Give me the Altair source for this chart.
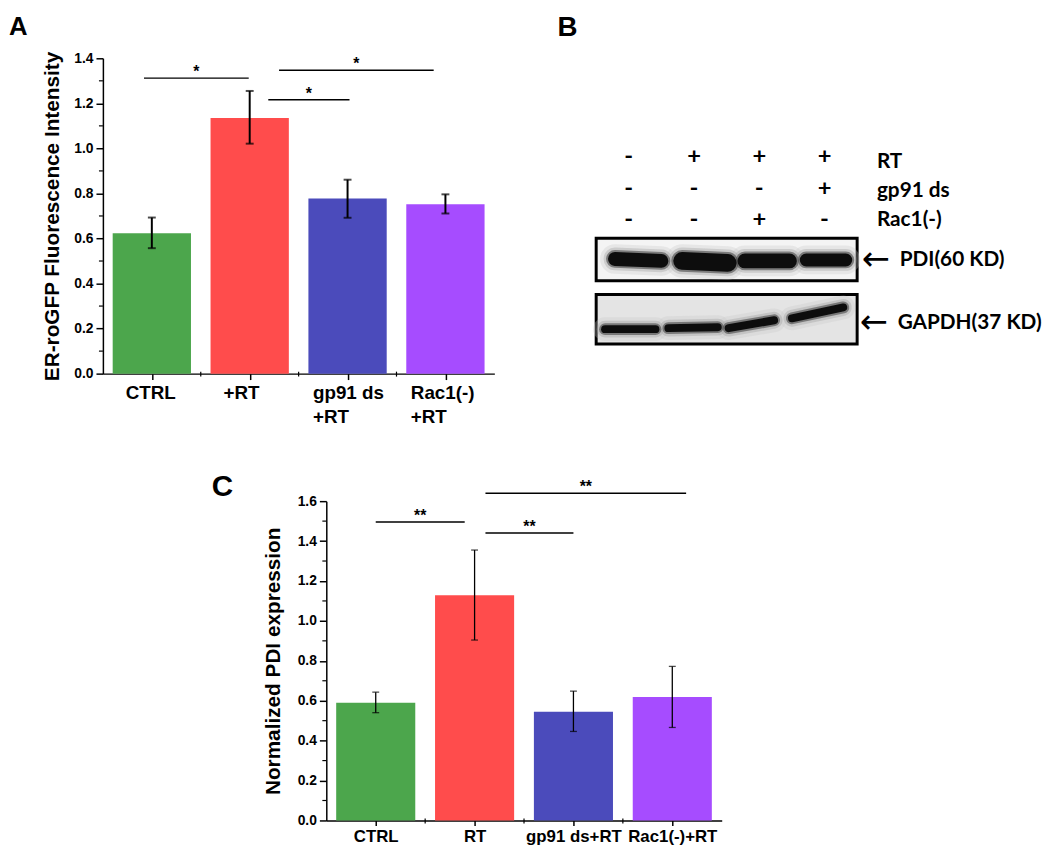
import json
import altair as alt
import pandas as pd

# ---------------- data: panel A ----------------
A_CATS = ["CTRL", "+RT", "gp91 ds\n+RT", "Rac1(-)\n+RT"]
A_MEAN = [0.623, 1.135, 0.777, 0.752]
A_LOW = [0.557, 1.021, 0.692, 0.711]
A_HIGH = [0.693, 1.255, 0.861, 0.796]
A_SIG_FROM = [0.42, 1.69, 1.80]
A_SIG_TO = [1.49, 2.52, 3.38]
A_SIG_Y = [1.312, 1.216, 1.347]
A_SIG_MARK = ["*", "*", "*"]
A_Y_TICKS = [0.0, 0.2, 0.4, 0.6, 0.8, 1.0, 1.2, 1.4]
A_Y_MINOR = [0.1, 0.3, 0.5, 0.7, 0.9, 1.1, 1.3]
A_TITLE = "ER-roGFP Fluorescence Intensity"

# ---------------- data: panel C ----------------
C_CATS = ["CTRL", "RT", "gp91 ds+RT", "Rac1(-)+RT"]
C_MEAN = [0.590, 1.129, 0.545, 0.618]
C_LOW = [0.540, 0.904, 0.446, 0.466]
C_HIGH = [0.643, 1.355, 0.648, 0.772]
C_SIG_FROM = [0.50, 1.61, 1.61]
C_SIG_TO = [1.40, 2.50, 3.64]
C_SIG_Y = [1.496, 1.441, 1.640]
C_SIG_MARK = ["**", "**", "**"]
C_Y_TICKS = [0.0, 0.2, 0.4, 0.6, 0.8, 1.0, 1.2, 1.4, 1.6]
C_Y_MINOR = [0.1, 0.3, 0.5, 0.7, 0.9, 1.1, 1.3, 1.5]
C_TITLE = "Normalized PDI expression"

BAR_COLORS = ["#4ca64c", "#ff4c4c", "#4b4bbb", "#a64cff"]
CAT_BOUNDS = [1, 2, 3]

# ---------------- data: panel B (western blot) ----------------
LANES = [1, 2, 3, 4]
TREATMENTS = ["RT", "gp91 ds", "Rac1(-)"]
SIGNS = {
    "RT": ["-", "+", "+", "+"],
    "gp91 ds": ["-", "-", "-", "+"],
    "Rac1(-)": ["-", "-", "+", "-"],
}
BLOTS = ["PDI(60 KD)", "GAPDH(37 KD)"]
# band geometry (page pixels)
PDI_XL = [615, 681, 746, 809]
PDI_XR = [676, 745, 806, 862]
PDI_YL = [256, 258, 258, 257]
PDI_YR = [258, 260, 258, 257]
PDI_W = [14, 18, 15, 13]
GAPDH_XL = [608, 672, 733, 797]
GAPDH_XR = [667, 730, 787, 857]
GAPDH_YL = [327, 326, 326, 316]
GAPDH_YR = [327, 325, 318, 305]
GAPDH_W = [8, 8, 8, 8]

FONT = "Liberation Sans"
BFONT = "Lato"

# ---------------- layout ----------------
SIGN_ROW_Y = {"RT": 153, "gp91 ds": 185, "Rac1(-)": 217}
LABEL_ROW_Y = {"RT": 158, "gp91 ds": 187, "Rac1(-)": 217}
BOX_Y = {"PDI(60 KD)": (235, 278), "GAPDH(37 KD)": (292, 342)}
BOX_FILL = {"PDI(60 KD)": "#f4f4f4", "GAPDH(37 KD)": "#e4e4e4"}
BLOT_LABEL_Y = {"PDI(60 KD)": 257, "GAPDH(37 KD)": 321}
B_LEFT_PX, B_RIGHT_PX = 500, 1038
B_TOP_PX, B_BOTTOM_PX = 53, 437
BLOT_X0_PX, LANE_PX = 603, 66
C_SPACER = 109


def lane_of(px):
    return 0.5 + (px - BLOT_X0_PX) / LANE_PX


ONE = pd.DataFrame({"k": [0]})


def bar_panel(cats, mean, low, high, sig_from, sig_to, sig_y, sig_mark,
              yticks, yminor, ymax, ytitle, letter, width, height,
              anchor_dx, anchor_dy, letter_dx, letter_dy, letter_size,
              label_size, label_line, tick_size, label_pad, title_pad,
              err_w, cap_w, label_align="center", label_offset=0):
    n = len(cats)
    expr = ""
    for i, c in enumerate(cats):
        parts = c.split("\n")
        lit = json.dumps(parts) if len(parts) > 1 else json.dumps(c)
        if i < n - 1:
            expr += f"datum.value < {i + 1} ? {lit} : "
        else:
            expr += lit
    xs = alt.Scale(domain=[0, n], nice=False, zero=False)
    xaxis = alt.Axis(values=[i + 0.5 for i in range(n)], labelExpr=expr, title=None,
                     grid=False, domainColor="black", domainWidth=1.5, tickColor="black",
                     tickWidth=1.5, tickSize=tick_size, labelFont=FONT, labelFontWeight="bold",
                     labelFontSize=label_size, labelColor="black", labelPadding=label_pad,
                     labelLineHeight=label_line, labelAngle=0, labelOverlap=False,
                     labelFlush=False, labelBaseline="top", labelAlign=label_align,
                     labelOffset=label_offset)
    ys = alt.Scale(domain=[0, ymax], nice=False, zero=True)
    yaxis = alt.Axis(values=yticks, format=".1f", title=ytitle, grid=False,
                     domainColor="black", domainWidth=1.5, tickColor="black", tickWidth=1.5,
                     tickSize=7, labelFont=FONT, labelFontWeight="bold", labelFontSize=14,
                     labelColor="black", labelPadding=3, labelOverlap=False, labelFlush=False,
                     titleFont=FONT, titleFontWeight="bold", titleFontSize=21,
                     titleColor="black", titlePadding=title_pad)

    def X(f):
        return alt.X(f, type="quantitative", scale=xs, axis=xaxis)

    def Y(f):
        return alt.Y(f, type="quantitative", scale=ys, axis=yaxis)

    df = pd.DataFrame({
        "cat": cats,
        "x0": [i + 0.1 for i in range(n)],
        "x1": [i + 0.9 for i in range(n)],
        "xc": [i + 0.5 for i in range(n)],
        "mean": mean, "low": low, "high": high,
        "base": [0.0] * n,
    })
    caps = pd.DataFrame({"xc": list(df.xc) * 2, "v": list(low) + list(high)})
    sig = pd.DataFrame({"x1": sig_from, "x2": sig_to, "y": sig_y, "t": sig_mark,
                        "xm": [(a + b) / 2 for a, b in zip(sig_from, sig_to)]})

    bars = alt.Chart(df).mark_bar().encode(
        x=X("x0"), x2="x1", y=Y("mean"), y2="base",
        color=alt.Color("cat:N", scale=alt.Scale(domain=cats, range=BAR_COLORS), legend=None))
    errs = alt.Chart(df).mark_rule(color="black", strokeWidth=err_w).encode(
        x=X("xc"), y=Y("low"), y2="high")
    capm = alt.Chart(caps).mark_tick(orient="horizontal", color="black",
                                     thickness=err_w, size=cap_w).encode(x=X("xc"), y=Y("v"))
    sigl = alt.Chart(sig).mark_rule(color="black", strokeWidth=1.5).encode(
        x=X("x1"), x2="x2", y=Y("y"))
    stars = alt.Chart(sig).mark_text(font=FONT, fontWeight="bold", fontSize=16,
                                     baseline="alphabetic", dy=-1, color="black").encode(
        x=X("xm"), y=Y("y"), text="t:N")
    ymin = alt.Chart(pd.DataFrame({"v": yminor})).mark_rule(color="black", strokeWidth=1.2).encode(
        x=alt.value(0), x2=alt.value(-4), y=Y("v"))
    xmin = alt.Chart(pd.DataFrame({"v": CAT_BOUNDS})).mark_rule(color="black", strokeWidth=1.2).encode(
        x=X("v"), y=alt.value(height - 2), y2=alt.value(height + 3))
    let = alt.Chart(ONE).mark_text(font=FONT, fontWeight="bold", fontSize=letter_size,
                                   align="left", baseline="alphabetic", color="black").encode(
        x=alt.value(letter_dx), y=alt.value(letter_dy), text=alt.value(letter))
    anchor = alt.Chart(ONE).mark_point(filled=True, size=1, color="white", opacity=1).encode(
        x=alt.value(anchor_dx), y=alt.value(anchor_dy))
    return alt.layer(bars, errs, capm, sigl, stars, ymin, xmin, let, anchor).properties(
        width=width, height=height)


panel_a = bar_panel(A_CATS, A_MEAN, A_LOW, A_HIGH, A_SIG_FROM, A_SIG_TO, A_SIG_Y, A_SIG_MARK,
                    A_Y_TICKS, A_Y_MINOR, 1.4, A_TITLE, "A", 396, 319,
                    -95, -45, -95, -24, 26, 19, 24, 6, 4, 11, 2, 8,
                    label_align="left",
                    label_offset={"condition": {"test": "datum.value < 2", "value": -27},
                                  "value": -35.5})

panel_c = bar_panel(C_CATS, C_MEAN, C_LOW, C_HIGH, C_SIG_FROM, C_SIG_TO, C_SIG_Y, C_SIG_MARK,
                    C_Y_TICKS, C_Y_MINOR, 1.6, C_TITLE, "C", 400, 323,
                    -116, -63, -116, -5, 30, 17, 20, 5, 3, 14, 1.3, 7)

# ---------------- panel B ----------------
bxs = alt.Scale(domain=[lane_of(B_LEFT_PX), lane_of(B_RIGHT_PX)], nice=False, zero=False)
bys = alt.Scale(domain=[B_TOP_PX, B_BOTTOM_PX], reverse=True, nice=False, zero=False)


def BX(f):
    return alt.X(f, type="quantitative", scale=bxs, axis=None)


def BY(f):
    return alt.Y(f, type="quantitative", scale=bys, axis=None)


sign_rows = []
for t in TREATMENTS:
    for lane, s in zip(LANES, SIGNS[t]):
        sign_rows.append({"lane": lane, "y": SIGN_ROW_Y[t], "s": s})
sign_df = pd.DataFrame(sign_rows)
treat_df = pd.DataFrame({"name": TREATMENTS, "x": [lane_of(887)] * 3,
                         "y": [LABEL_ROW_Y[t] for t in TREATMENTS]})
box_df = pd.DataFrame({"blot": BLOTS, "x1": [0.5, 0.5], "x2": [4.5, 4.5],
                       "y1": [BOX_Y[b][0] for b in BLOTS], "y2": [BOX_Y[b][1] for b in BLOTS]})
blot_lab = pd.DataFrame({"blot": BLOTS, "x": [lane_of(910), lane_of(908)],
                         "xa": [lane_of(872), lane_of(870)],
                         "y": [BLOT_LABEL_Y[b] for b in BLOTS]})

band_rows = []
for xl, xr, yl, yr, w in zip(PDI_XL + GAPDH_XL, PDI_XR + GAPDH_XR,
                             PDI_YL + GAPDH_YL, PDI_YR + GAPDH_YR, PDI_W + GAPDH_W):
    band_rows.append({"xl": lane_of(xl + w / 2), "xr": lane_of(xr - w / 2),
                      "yl": yl, "yr": yr, "w": w})
band_df = pd.DataFrame(band_rows)

boxes = alt.Chart(box_df).mark_rect(stroke="black", strokeWidth=3).encode(
    x=BX("x1"), x2="x2", y=BY("y1"), y2="y2",
    fill=alt.Fill("blot:N", scale=alt.Scale(domain=BLOTS, range=[BOX_FILL[b] for b in BLOTS]),
                  legend=None))


def band_layer(extra, color, opacity):
    d = band_df.assign(ww=band_df.w + extra)
    return alt.Chart(d).mark_rule(strokeCap="round", color=color, opacity=opacity).encode(
        x=BX("xl"), x2="xr", y=BY("yl"), y2="yr",
        size=alt.Size("ww:Q", scale=None, legend=None))


halo3 = band_layer(16, "#c8c8c8", 0.3)
halo2 = band_layer(9, "#9a9a9a", 0.35)
halo1 = band_layer(4, "#3a3a3a", 0.55)
core = band_layer(0, "#0d0d0d", 1.0)

signs = alt.Chart(sign_df).mark_text(font=BFONT, fontWeight="bold", fontSize=24,
                                     baseline="middle", color="black").encode(
    x=BX("lane"), y=BY("y"), text="s:N")
treat = alt.Chart(treat_df).mark_text(font=BFONT, fontWeight="bold", fontSize=21, align="left",
                                      baseline="middle", color="black").encode(
    x=BX("x"), y=BY("y"), text="name:N")
arrows = alt.Chart(blot_lab).mark_text(font="DejaVu Sans", fontSize=34, align="left",
                                       baseline="middle", color="black").encode(
    x=BX("xa"), y=BY("y"), text=alt.value("←"))
blabels = alt.Chart(blot_lab).mark_text(font=BFONT, fontWeight="bold", fontSize=21, align="left",
                                        baseline="middle", color="black").encode(
    x=BX("x"), y=BY("y"), text="blot:N")
b_letter = alt.Chart(ONE).mark_text(font=FONT, fontWeight="bold", fontSize=28, align="left",
                                    baseline="alphabetic", color="black").encode(
    x=alt.value(64), y=alt.value(-22.5), text=alt.value("B"))

panel_b = alt.layer(boxes, halo3, halo2, halo1, core, signs, treat, arrows, blabels,
                    b_letter).properties(
    width=B_RIGHT_PX - B_LEFT_PX, height=B_BOTTOM_PX - B_TOP_PX)

spacer = alt.Chart(ONE).mark_point(filled=True, size=1, color="white").encode(
    x=alt.value(0), y=alt.value(0)).properties(width=C_SPACER, height=10)

top = alt.hconcat(panel_a, panel_b, spacing=0).resolve_scale(color="independent", fill="independent")
bottom = alt.hconcat(spacer, panel_c, spacing=0).resolve_scale(color="independent")
chart = alt.vconcat(top, bottom, spacing=0).resolve_scale(
    color="independent", fill="independent").properties(padding=0).configure_view(stroke=None)

chart.save("out.html", embed_options={"renderer": "svg", "actions": False})
